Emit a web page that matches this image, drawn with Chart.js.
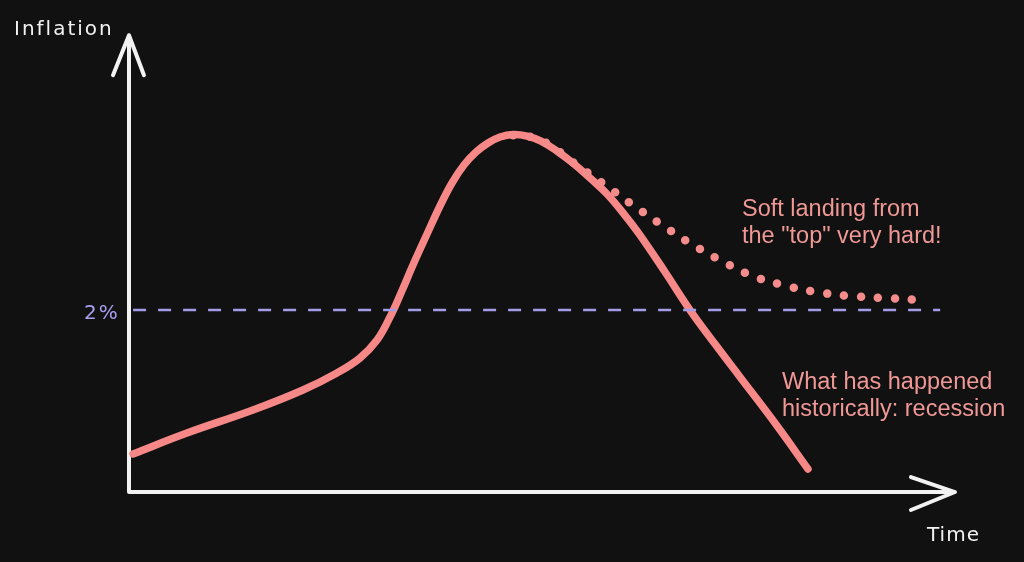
<!DOCTYPE html>
<html>
<head>
<meta charset="utf-8">
<script src="https://cdn.jsdelivr.net/npm/chart.js@4.4.1/dist/chart.umd.min.js"></script>
<style>
  html, body { margin: 0; padding: 0; background: #111111; }
  #wrap { width: 1024px; height: 562px; position: relative; }
  canvas { display: block; }
</style>
</head>
<body>
<div id="wrap"><canvas id="c" width="1024" height="562"></canvas></div>
<script>
// Time (arbitrary units, 0 = origin) and inflation (%)
const historicalTime = [0.49, 7.06, 15.10, 21.19, 25.33, 28.14, 30.21, 31.79, 33.13, 34.59, 36.30, 37.88, 39.34, 40.80, 42.27, 43.73, 45.19, 46.77, 48.48, 50.18, 52.13, 54.08, 56.15, 58.22, 60.29, 62.24, 65.29, 68.33, 71.38, 74.42, 78.68, 82.70];
const historicalInflation = [0.418, 0.648, 0.901, 1.121, 1.308, 1.473, 1.670, 1.923, 2.187, 2.495, 2.835, 3.143, 3.396, 3.593, 3.736, 3.835, 3.901, 3.929, 3.912, 3.857, 3.747, 3.615, 3.451, 3.275, 3.055, 2.824, 2.418, 2.000, 1.626, 1.264, 0.758, 0.253];

const softTime = [46.8, 50.1, 54.9, 58.5, 61.9, 65.3, 68.8, 72.4, 76.1, 80.3, 84.3, 88.4, 92.6, 96.7];
const softInflation = [3.92, 3.87, 3.57, 3.34, 3.12, 2.91, 2.71, 2.53, 2.37, 2.26, 2.19, 2.15, 2.13, 2.11];

const targetTime = [0.5, 98.8];
const targetInflation = [2, 2];

const axisLabels = { y: 'Inflation', x: 'Time', target: '2%' };
const softNote = ['Soft landing from', 'the "top" very hard!'];
const histNote = ['What has happened', 'historically: recession'];

const toPts = (xs, ys) => xs.map((x, i) => ({ x: x, y: ys[i] }));

const sketchPlugin = {
  id: 'sketch',
  beforeDraw(chart) {
    const ctx = chart.ctx;
    ctx.save();
    ctx.fillStyle = '#111111';
    ctx.fillRect(0, 0, chart.width, chart.height);
    ctx.restore();
  },
  beforeDatasetsDraw(chart) {
    const ctx = chart.ctx;
    const xs = chart.scales.x, ys = chart.scales.y;
    const ox = xs.getPixelForValue(0), oy = ys.getPixelForValue(0);
    const yTip = ys.getPixelForValue(5.02);
    const xTip = xs.getPixelForValue(100.6);
    ctx.save();
    ctx.strokeStyle = '#f2f2f2';
    ctx.lineWidth = 4;
    ctx.lineCap = 'round';
    ctx.lineJoin = 'round';
    ctx.beginPath();
    ctx.moveTo(ox, oy);
    ctx.lineTo(ox, yTip);
    ctx.moveTo(ox, oy);
    ctx.lineTo(xTip, oy);
    // arrow heads
    ctx.moveTo(ox - 16, yTip + 40);
    ctx.lineTo(ox, yTip);
    ctx.lineTo(ox + 15, yTip + 40);
    ctx.moveTo(xTip - 44, oy - 15);
    ctx.lineTo(xTip, oy);
    ctx.lineTo(xTip - 44, oy + 18);
    ctx.stroke();

    ctx.fillStyle = '#f2f2f2';
    ctx.font = '20px "DejaVu Sans", sans-serif';
    ctx.textBaseline = 'alphabetic';
    ctx.textAlign = 'left';
    ctx.letterSpacing = '2px';
    ctx.fillText(axisLabels.y, 14, 35);
    ctx.letterSpacing = '1px';
    ctx.fillText(axisLabels.x, 927, 541);

    ctx.fillStyle = '#a99ff0';
    ctx.letterSpacing = '2px';
    ctx.fillText(axisLabels.target, 84, 319);
    ctx.restore();
  },
  afterDatasetsDraw(chart) {
    const ctx = chart.ctx;
    ctx.save();
    ctx.fillStyle = '#ef9896';
    ctx.font = '23.5px "Liberation Sans", Arial, sans-serif';
    ctx.textAlign = 'left';
    ctx.textBaseline = 'alphabetic';
    ctx.fillText(softNote[0], 742, 216);
    ctx.fillText(softNote[1], 742, 243);
    ctx.fillText(histNote[0], 782, 389);
    ctx.fillText(histNote[1], 782, 416);
    ctx.restore();
  }
};

new Chart(document.getElementById('c'), {
  type: 'line',
  data: {
    datasets: [
      {
        label: '2% target',
        data: toPts(targetTime, targetInflation),
        borderColor: '#a39ce8',
        borderWidth: 2.5,
        borderDash: [13, 12],
        pointRadius: 0,
        tension: 0
      },
      {
        label: 'Soft landing',
        data: toPts(softTime, softInflation),
        borderColor: '#f58c8c',
        borderWidth: 8.5,
        borderDash: [0, 17],
        borderCapStyle: 'round',
        pointRadius: 0,
        tension: 0.4
      },
      {
        label: 'Historical',
        data: toPts(historicalTime, historicalInflation),
        borderColor: '#f78888',
        borderWidth: 7.5,
        borderCapStyle: 'round',
        borderJoinStyle: 'round',
        pointRadius: 0,
        tension: 0.4
      }
    ]
  },
  options: {
    responsive: false,
    animation: false,
    devicePixelRatio: 1,
    layout: { padding: 0 },
    plugins: { legend: { display: false }, tooltip: { enabled: false } },
    scales: {
      x: { type: 'linear', min: -15.71, max: 109.01, display: false },
      y: { type: 'linear', min: -0.769, max: 5.407, display: false }
    }
  },
  plugins: [sketchPlugin]
});
</script>
</body>
</html>
